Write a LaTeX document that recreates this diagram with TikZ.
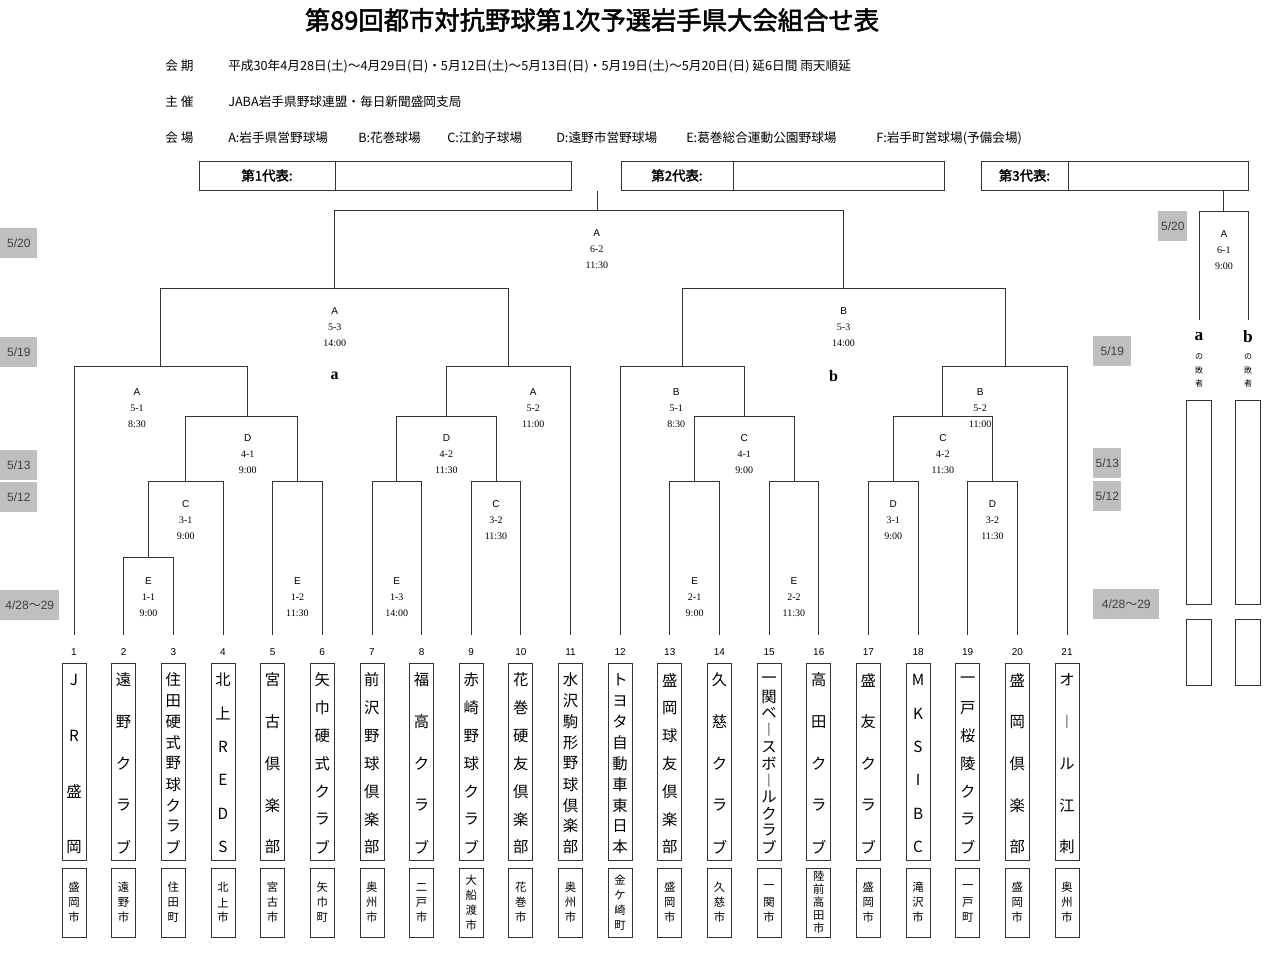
\documentclass[tikz,border=0pt]{standalone}
\usepackage{fontspec}
\setmainfont{Liberation Serif}
\setsansfont{Liberation Sans}
\newfontfamily\jp[AutoFakeBold=2]{Noto Sans CJK JP}
\definecolor{LineClr}{rgb}{0.2,0.2,0.2}
\definecolor{DateClr}{rgb}{0.75,0.75,0.75}
\newcommand\tx[1]{{74+49.65*(#1-1)}}
\newcommand\bk[5]{\draw[bline] (\tx{#1},#4) |- (\tx{#2},#3) -- (\tx{#2},#5);}

\begin{document}
\begin{tikzpicture}[x=0.75pt,y=-0.75pt,
  bline/.style={line width=0.6pt,color=LineClr},
  boxline/.style={draw=LineClr,line width=0.6pt},
  teambox/.style={boxline,minimum width=18pt,minimum height=147.75pt,inner sep=0},
  citybox/.style={boxline,minimum width=18pt,minimum height=51.75pt,inner sep=0},
  teamchar/.style={font=\jp\fontsize{11.5}{12}\selectfont,inner sep=0},
  citychar/.style={font=\jp\fontsize{8.5}{9}\selectfont,inner sep=0},
  gamelbl/.style={align=center,inner sep=0,anchor=north,font=\fontsize{7.5}{12}\selectfont},
  datebox/.style={fill=DateClr,text=black!75,font=\sffamily\fontsize{9}{10}\selectfont,inner sep=0,anchor=north west},
  headtxt/.style={anchor=west,inner sep=0,font=\jp\fontsize{9.5}{10}\selectfont},
  repbox/.style={boxline,anchor=north west,minimum height=21.75pt,inner sep=0}]
\useasboundingbox (0,0) rectangle (1280,969);
\fill[white] (0,0) rectangle (1280,969);

% title and header
\node[font=\jp\fontsize{19}{20}\selectfont\bfseries] (title) at (592,20) {第89回都市対抗野球第1次予選岩手県大会組合せ表};
\node[headtxt] (h1) at (165,66) {会\ 期};
\node[headtxt] (h2) at (165,102) {主\ 催};
\node[headtxt] (h3) at (165,138) {会\ 場};
\node[headtxt] (d1) at (228,66) {平成30年4月28日(土)～4月29日(日)・5月12日(土)～5月13日(日)・5月19日(土)～5月20日(日)\ 延6日間\ 雨天順延};
\node[headtxt] (d2) at (228,102) {JABA岩手県野球連盟・毎日新聞盛岡支局};
\foreach \vx/\vn in {228/A:岩手県営野球場,358/B:花巻球場,447/C:江釣子球場,556/D:遠野市営野球場,686/E:葛巻総合運動公園野球場,876/F:岩手町営球場(予備会場)}
  \node[headtxt] at (\vx,138) {\vn};

% representative boxes
\foreach \nm/\xa/\xb/\xc/\lbl in {rep1/199/335/571/第1代表:,rep2/621/733/944/第2代表:,rep3/981/1068/1248/第3代表:}{
  \node[repbox,minimum width={(\xc-\xa)*0.75pt}] (\nm) at (\xa,161) {};
  \draw[bline] (\xb,161) -- (\xb,190);
  \node[font=\jp\fontsize{10}{11}\selectfont\bfseries] at ({(\xa+\xb)/2},175.5) {\lbl};
}

% date labels
\foreach \dx/\dy/\dw/\dt in {0/228/37/5\slash20,0/337/37/5\slash19,0/450/37/5\slash13,0/482/37/5\slash12,0/590/59/4\slash28{\jp ～}29,
  1158/211/29/5\slash20,1093/336/38/5\slash19,1093/448/28/5\slash13,1093/481/28/5\slash12,1093/589/66/4\slash28{\jp ～}29}
  \node[datebox,minimum width={\dw*0.75pt},minimum height=22pt] at (\dx,\dy) {\dt};

% bracket
\bk{2}{3}{557}{635}{635}
\bk{2.5}{4}{481}{557}{635}
\bk{5}{6}{481}{635}{635}
\bk{3.25}{5.5}{416}{481}{481}
\bk{1}{4.5}{366}{635}{416}
\bk{7}{8}{481}{635}{635}
\bk{9}{10}{481}{635}{635}
\bk{7.5}{9.5}{416}{481}{481}
\bk{8.5}{11}{366}{416}{635}
\bk{2.75}{9.75}{288}{366}{366}
\bk{13}{14}{481}{635}{635}
\bk{15}{16}{481}{635}{635}
\bk{13.5}{15.5}{416}{481}{481}
\bk{12}{14.5}{366}{635}{416}
\bk{17}{18}{481}{635}{635}
\bk{19}{20}{481}{635}{635}
\bk{17.5}{19.5}{416}{481}{481}
\bk{18.5}{21}{366}{416}{635}
\bk{13.25}{19.75}{288}{366}{366}
\bk{6.25}{16.5}{210}{288}{288}
\draw[bline] (597,210) -- (rep1.south -| 597,190);
\draw[bline] (1199,320) |- (1248,211) -- (1248,320);
\draw[bline] (1223,211) -- (1223,190);

% game labels
\foreach \gx/\gy/\gv/\gn/\gt in {2.27/388/A/5-1/8:30,10.25/388/A/5-2/11:00,6.25/307/A/5-3/14:00,
  4.5/434/D/4-1/9:00,8.5/434/D/4-2/11:30,3.25/500/C/3-1/9:00,9.5/500/C/3-2/11:30,
  2.5/577/E/1-1/9:00,5.5/577/E/1-2/11:30,7.5/577/E/1-3/14:00,
  16.5/307/B/5-3/14:00,13.13/388/B/5-1/8:30,19.25/388/B/5-2/11:00,
  14.5/434/C/4-1/9:00,18.5/434/C/4-2/11:30,17.5/500/D/3-1/9:00,19.5/500/D/3-2/11:30,
  13.5/577/E/2-1/9:00,15.5/577/E/2-2/11:30,11.53/229/A/6-2/11:30,24.16/230/A/6-1/9:00}
  \node[gamelbl] at (\tx{\gx},\gy) {{\sffamily\gv}\\\gn\\\gt};
\node[font=\bfseries\fontsize{12}{12}\selectfont] (wa) at (\tx{6.25},376) {a};
\node[font=\bfseries\fontsize{12}{12}\selectfont] (wb) at (\tx{16.3},376) {b};

% losers bracket
\foreach \lx/\ll in {1199/a,1248/b}{
  \node[font=\bfseries\fontsize{13}{13}\selectfont] at (\lx,337) {\ll};
  \foreach \c [count=\k] in {の,敗,者}
    \node[font=\jp\fontsize{6}{6}\selectfont,inner sep=0] at (\lx,{344+13*\k}) {\c};
  \draw[boxline] ({\lx-12.5},400) rectangle ({\lx+12.5},604);
  \draw[boxline] ({\lx-12.5},619) rectangle ({\lx+12.5},685);
}

% teams
\foreach \i/\n/\nm/\m/\ct in {1/4/{J,R,盛,岡}/3/{盛,岡,市},
  2/5/{遠,野,ク,ラ,ブ}/3/{遠,野,市},
  3/9/{住,田,硬,式,野,球,ク,ラ,ブ}/3/{住,田,町},
  4/6/{北,上,R,E,D,S}/3/{北,上,市},
  5/5/{宮,古,倶,楽,部}/3/{宮,古,市},
  6/7/{矢,巾,硬,式,ク,ラ,ブ}/3/{矢,巾,町},
  7/7/{前,沢,野,球,倶,楽,部}/3/{奥,州,市},
  8/5/{福,高,ク,ラ,ブ}/3/{二,戸,市},
  9/7/{赤,崎,野,球,ク,ラ,ブ}/4/{大,船,渡,市},
  10/7/{花,巻,硬,友,倶,楽,部}/3/{花,巻,市},
  11/9/{水,沢,駒,形,野,球,倶,楽,部}/3/{奥,州,市},
  12/9/{ト,ヨ,タ,自,動,車,東,日,本}/4/{金,ケ,崎,町},
  13/7/{盛,岡,球,友,倶,楽,部}/3/{盛,岡,市},
  14/5/{久,慈,ク,ラ,ブ}/3/{久,慈,市},
  15/11/{一,関,ベ,︱,ス,ボ,︱,ル,ク,ラ,ブ}/3/{一,関,市},
  16/5/{高,田,ク,ラ,ブ}/5/{陸,前,高,田,市},
  17/5/{盛,友,ク,ラ,ブ}/3/{盛,岡,市},
  18/6/{M,K,S,I,B,C}/3/{滝,沢,市},
  19/7/{一,戸,桜,陵,ク,ラ,ブ}/3/{一,戸,町},
  20/5/{盛,岡,倶,楽,部}/3/{盛,岡,市},
  21/5/{オ,︱,ル,江,刺}/3/{奥,州,市}}{
  \node[font=\sffamily\fontsize{7.5}{8}\selectfont,inner sep=0] (num\i) at (\tx{\i},652) {\i};
  \node[teambox] (team\i) at (\tx{\i},761.5) {};
  \node[citybox] (city\i) at (\tx{\i},902.5) {};
  \foreach \c [count=\k] in \nm
    \node[teamchar] at (\tx{\i},{680+(\k-1)*167/(\n-1)}) {\c};
  \foreach \c [count=\k] in \ct
    \node[citychar] at (\tx{\i},{902.5+(\k-(\m+1)/2)*(\m>4?13:15)}) {\c};
}
\end{tikzpicture}
\end{document}
